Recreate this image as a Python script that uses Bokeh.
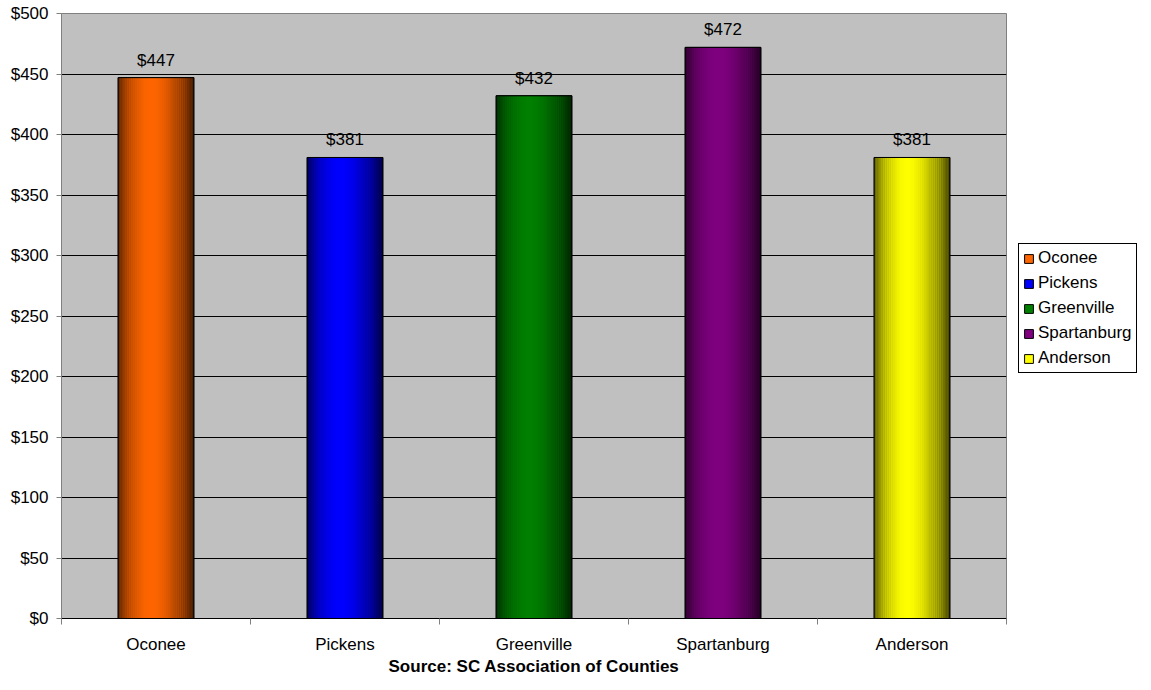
from bokeh.plotting import figure
from bokeh.models import (ColumnDataSource, FixedTicker, Legend, LegendItem,
                          NumeralTickFormatter, LabelSet)
from bokeh.core.properties import value
from bokeh.embed import file_html
from bokeh.resources import INLINE

counties = ["Oconee", "Pickens", "Greenville", "Spartanburg", "Anderson"]
values = [447, 381, 432, 472, 381]
colors = ["#FF6600", "#0000FF", "#008000", "#800080", "#FFFF00"]
labels = ["$447", "$381", "$432", "$472", "$381"]
y_ticks = [0, 50, 100, 150, 200, 250, 300, 350, 400, 450, 500]
source_text = "Source: SC Association of Counties"

BAR_W = 0.4
N_STRIPS = 40
FONT = "Liberation Sans"

xs = [i + 0.5 for i in range(len(counties))]


def shade(hex_color, f):
    h = hex_color.lstrip("#")
    r, g, b = (int(h[k:k + 2], 16) for k in (0, 2, 4))
    return "#%02x%02x%02x" % (int(r * f), int(g * f), int(b * f))


def profile(t):
    peak = 0.45
    if t < peak:
        u = t / peak
        return 0.38 + 0.62 * (1 - (1 - u) ** 2)
    u = (t - peak) / (1 - peak)
    return 1.0 - 0.72 * u ** 1.6


p = figure(frame_width=945, frame_height=605, x_range=(0, 5), y_range=(0, 500),
           output_backend="svg", toolbar_location=None,
           min_border_left=61, min_border_right=129, min_border_top=13,
           min_border_bottom=56)

p.background_fill_color = "#C0C0C0"
p.border_fill_color = "white"
p.outline_line_color = "#808080"
p.outline_line_width = 1

src = ColumnDataSource(dict(x=xs, top=values, color=colors, label=labels,
                            name=counties))

base = p.vbar(x="x", top="top", width=BAR_W, bottom=0, source=src,
              fill_color="color", line_color="black", line_width=1)

sx, stop, scol = [], [], []
for xc, v, c in zip(xs, values, colors):
    for k in range(N_STRIPS):
        t = (k + 0.5) / N_STRIPS
        sx.append(xc - BAR_W / 2 + BAR_W * t)
        stop.append(v)
        scol.append(shade(c, profile(t)))
strip_src = ColumnDataSource(dict(x=sx, top=stop, color=scol))
p.vbar(x="x", top="top", bottom=0, width=BAR_W / N_STRIPS * 1.05,
       source=strip_src, fill_color="color", line_color=None)

p.vbar(x="x", top="top", width=BAR_W, bottom=0, source=src,
       fill_color=None, line_color="black", line_width=1)

p.add_layout(LabelSet(x="x", y="top", text="label", source=src,
                      text_align="center", text_baseline="bottom",
                      y_offset=8, text_font=value(FONT),
                      text_font_size=value("17px"), text_color="black"))

# grid
p.xgrid.grid_line_color = None
p.ygrid.ticker = FixedTicker(ticks=y_ticks)
p.ygrid.grid_line_color = "black"
p.ygrid.grid_line_width = 1

# y axis
p.yaxis.ticker = FixedTicker(ticks=y_ticks)
p.yaxis.formatter = NumeralTickFormatter(format="$0")
p.yaxis.major_label_text_font = FONT
p.yaxis.major_label_text_font_size = "17px"
p.yaxis.major_label_text_color = "black"
p.yaxis.axis_line_color = "#808080"
p.yaxis.major_tick_line_color = "#808080"
p.yaxis.major_tick_in = 0
p.yaxis.major_tick_out = 5
p.yaxis.minor_tick_line_color = None
p.yaxis.major_label_standoff = 8

# x axis
p.xaxis.ticker = FixedTicker(ticks=xs, minor_ticks=[0, 1, 2, 3, 4, 5])
p.xaxis.major_label_overrides = {x: n for x, n in zip(xs, counties)}
p.xaxis.major_tick_line_color = None
p.xaxis.minor_tick_line_color = "#808080"
p.xaxis.minor_tick_in = 0
p.xaxis.minor_tick_out = 6
p.xaxis.axis_line_color = "black"
p.xaxis.major_label_text_font = FONT
p.xaxis.major_label_text_font_size = "17px"
p.xaxis.major_label_text_color = "black"
p.xaxis.major_label_standoff = 10
p.xaxis.axis_label = source_text
p.xaxis.axis_label_text_font = FONT
p.xaxis.axis_label_text_font_size = "17px"
p.xaxis.axis_label_text_font_style = "bold"
p.xaxis.axis_label_text_color = "black"
p.xaxis.axis_label_standoff = 0

items = [LegendItem(label=n, renderers=[base], index=i)
         for i, n in enumerate(counties)]
legend = Legend(items=items, location=(12, 245))
legend.label_text_font = FONT
legend.label_text_font_size = "17px"
legend.label_text_color = "black"
legend.glyph_width = 11
legend.glyph_height = 11
legend.label_height = 20
legend.spacing = 5
legend.padding = 4
legend.label_standoff = 4
legend.margin = 0
legend.border_line_color = "black"
legend.border_line_width = 1
legend.border_line_alpha = 1.0
legend.background_fill_color = "white"
legend.background_fill_alpha = 1.0
p.add_layout(legend, "right")

open("out.html", "w").write(file_html(p, INLINE))
